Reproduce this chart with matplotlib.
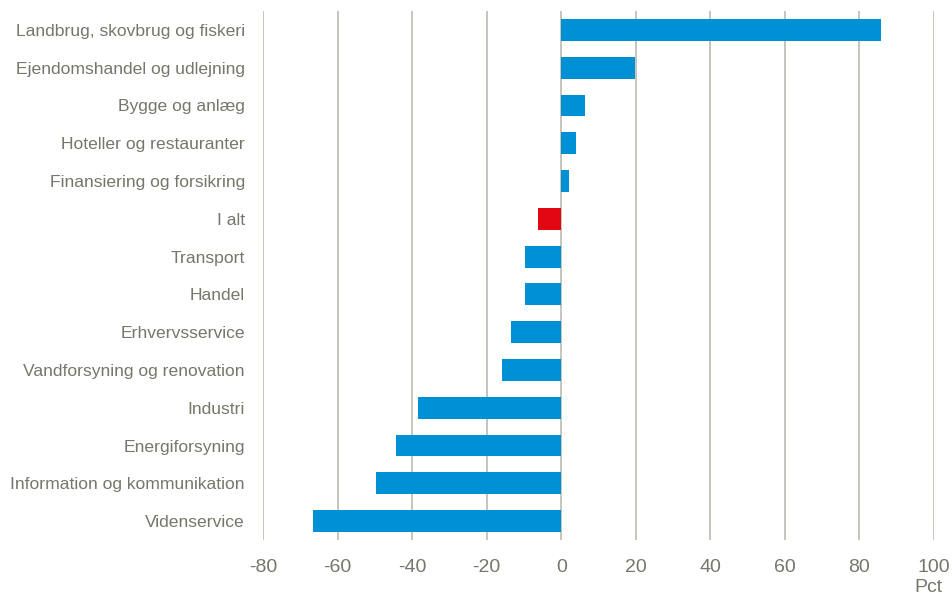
import matplotlib.pyplot as plt
import matplotlib.font_manager as fm

# Sectors (top to bottom) and change in pct
categories = [
    "Landbrug, skovbrug og fiskeri",
    "Ejendomshandel og udlejning",
    "Bygge og anlæg",
    "Hoteller og restauranter",
    "Finansiering og forsikring",
    "I alt",
    "Transport",
    "Handel",
    "Erhvervsservice",
    "Vandforsyning og renovation",
    "Industri",
    "Energiforsyning",
    "Information og kommunikation",
    "Videnservice",
]
values = [85.8, 19.9, 6.5, 4.0, 2.1, -6.2, -9.7, -9.7, -13.5, -15.9, -38.5, -44.4, -49.8, -66.7]
xticks = [-80, -60, -40, -20, 0, 20, 40, 60, 80, 100]

names = {f.name for f in fm.fontManager.ttflist}
family = "Liberation Sans Narrow" if "Liberation Sans Narrow" in names else "Liberation Sans"
plt.rcParams["font.family"] = [family, "DejaVu Sans"]

text_col = "#76766a"
blue = "#0091d5"
red = "#e30613"

fig = plt.figure(figsize=(9.52, 5.96), dpi=100)
ax = fig.add_axes([0.2763, 0.094, 0.7047, 0.8875])

colors = [red if c == "I alt" else blue for c in categories]
ypos = range(len(categories))
ax.barh(ypos, values, height=0.58, color=colors, zorder=3)

ax.set_xlim(-80, 100)
ax.set_ylim(len(categories) - 0.5, -0.5)
ax.set_xticks(xticks)
ax.set_xticklabels([str(t) for t in xticks])
ax.set_yticks(list(ypos))
ax.set_yticklabels(categories)

ax.grid(axis="x", color="#c2c0b6", linewidth=1.3, zorder=0)
for s in ax.spines.values():
    s.set_visible(False)
ax.tick_params(axis="both", length=0, colors=text_col)
ax.tick_params(axis="y", labelsize=12.6, pad=13)
ax.tick_params(axis="x", labelsize=14, pad=14)

# unit label under the last tick
fig.text(0.99, 0.0, "Pct", ha="right", va="bottom", fontsize=14, color=text_col)

fig.savefig("out.png", dpi=100)
